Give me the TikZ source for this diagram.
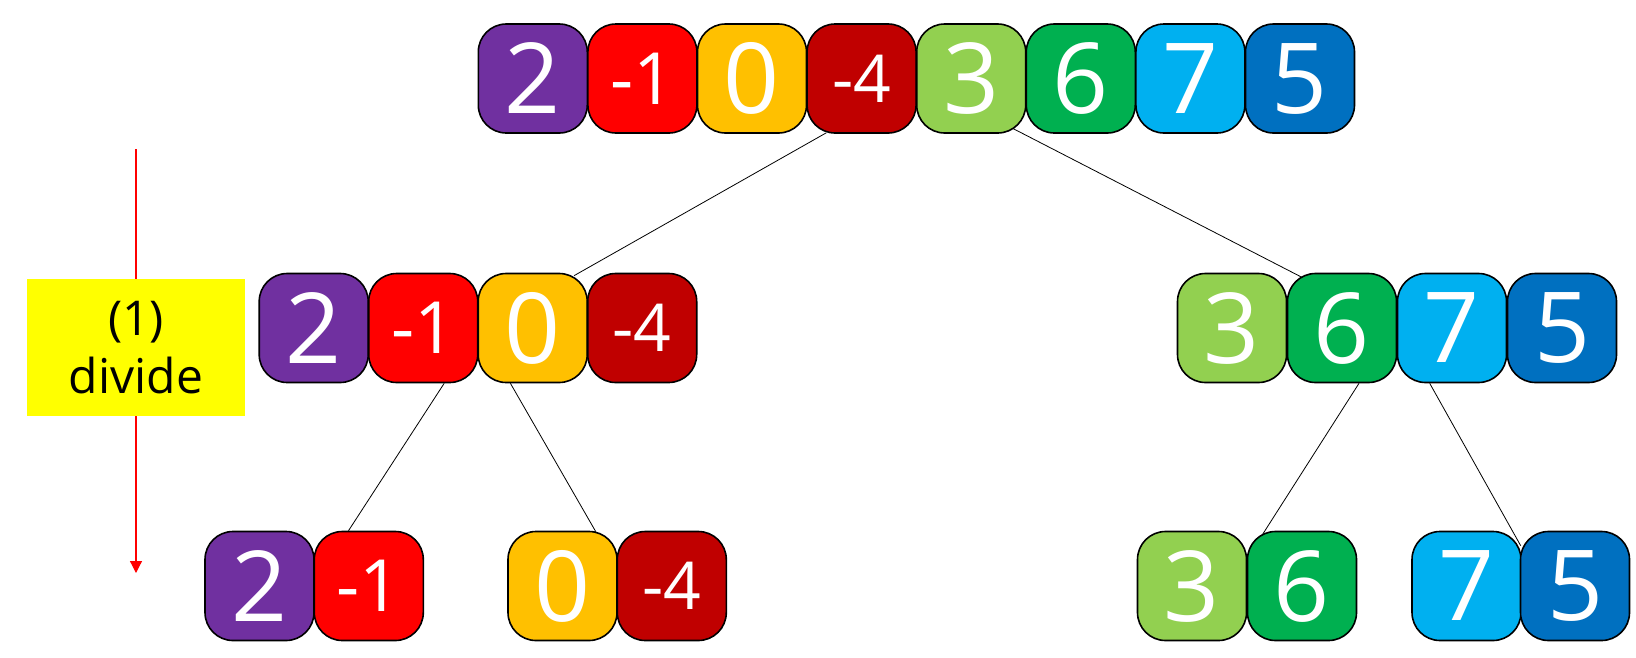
\documentclass[tikz,border=0pt]{standalone}
\usepackage{fontspec}
\setmainfont{Open Sans}
\usetikzlibrary{calc,arrows.meta}
\definecolor{cpurple}{HTML}{7030A0}
\definecolor{cred}{HTML}{FF0000}
\definecolor{cyellow}{HTML}{FFC000}
\definecolor{cdkred}{HTML}{C00000}
\definecolor{clgreen}{HTML}{92D050}
\definecolor{cgreen}{HTML}{00B050}
\definecolor{clblue}{HTML}{00B0F0}
\definecolor{cblue}{HTML}{0070C0}
\definecolor{labelyellow}{HTML}{FFFF00}
\newcommand\bigdig{\fontsize{98}{98}\selectfont}
\newcommand\negdig{\fontsize{72}{72}\selectfont}
\newcommand\negdigb{\fontsize{66}{66}\selectfont}
\tikzset{
  cell/.style={draw=black, line width=1.6pt, rounded corners=28pt,
    minimum width=109pt, minimum height=109pt, inner sep=0pt,
    text=white, font=\bigdig},
  neg/.style={font=\negdig},
  negb/.style={font=\negdigb},
  link/.style={draw=black, line width=0.8pt},
  divarrow/.style={draw=cred, line width=1.2pt, -{Triangle[length=12pt,width=12pt]}},
  stepbox/.style={fill=labelyellow, minimum width=218pt, minimum height=137pt,
    inner sep=0pt, align=center, font=\fontsize{48}{58}\selectfont}
}
\begin{document}
\begin{tikzpicture}[x=1pt,y=-1pt]
\useasboundingbox (0,0) rectangle (1636,657);
% top row
\node[cell,fill=cpurple] (t1) at (532.8,78.5) {2};
\node[cell,fill=cred,neg] (t2) at (642.4,78.5) {-1};
\node[cell,fill=cyellow] (t3) at (752,78.5) {0};
\node[cell,fill=cdkred,negb] (t4) at (861.6,78.5) {-4};
\node[cell,fill=clgreen] (t5) at (971.2,78.5) {3};
\node[cell,fill=cgreen] (t6) at (1080.8,78.5) {6};
\node[cell,fill=clblue] (t7) at (1190.4,78.5) {7};
\node[cell,fill=cblue] (t8) at (1300,78.5) {5};
% middle left
\node[cell,fill=cpurple] (ml1) at (313.7,328) {2};
\node[cell,fill=cred,neg] (ml2) at (423.2,328) {-1};
\node[cell,fill=cyellow] (ml3) at (532.7,328) {0};
\node[cell,fill=cdkred,negb] (ml4) at (642.2,328) {-4};
% middle right
\node[cell,fill=clgreen] (mr1) at (1232,328) {3};
\node[cell,fill=cgreen] (mr2) at (1342,328) {6};
\node[cell,fill=clblue] (mr3) at (1452,328) {7};
\node[cell,fill=cblue] (mr4) at (1562,328) {5};
% bottom left
\node[cell,fill=cpurple] (bl1) at (259.5,586) {2};
\node[cell,fill=cred,neg] (bl2) at (368.8,586) {-1};
\node[cell,fill=cyellow] (bl3) at (562.5,586) {0};
\node[cell,fill=cdkred,negb] (bl4) at (671.8,586) {-4};
% bottom right
\node[cell,fill=clgreen] (br1) at (1192,586) {3};
\node[cell,fill=cgreen] (br2) at (1302,586) {6};
\node[cell,fill=clblue] (br3) at (1466.5,586) {7};
\node[cell,fill=cblue] (br4) at (1575,586) {5};
% connectors
\draw[link] ($(t4.south west)+(20,-1)$) -- ($(ml3.north east)+(-14,3)$);
\draw[link] ($(t5.south east)+(-13,-5)$) -- ($(mr2.north west)+(15,4.5)$);
\draw[link] ($(ml2.south)+(21,0)$) -- ($(bl2.north west)+(35,0)$);
\draw[link] ($(ml3.south west)+(33,0)$) -- ($(bl3.north east)+(-22,1)$);
\draw[link] ($(mr2.south)+(17,0)$) -- ($(br2.north west)+(16,3.5)$);
\draw[link] ($(mr3.south west)+(33,0)$) -- ($(br4.north west)+(1,15)$);
% divide arrow and label
\coordinate (as) at (136,149);
\coordinate (ae) at (136,573);
\draw[divarrow] (as) -- (ae);
\node[stepbox] (lbl) at (136,347.5) {(1)\\divide};
\end{tikzpicture}
\end{document}
